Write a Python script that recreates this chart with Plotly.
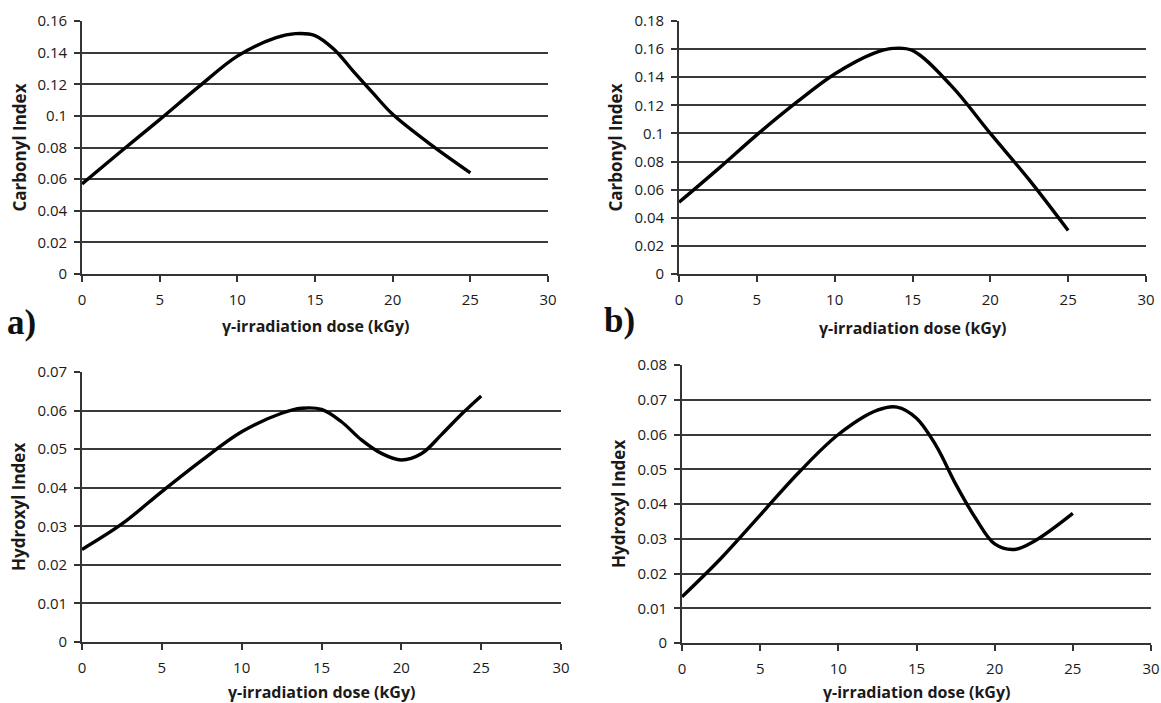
import plotly.graph_objects as go

# ---- data ----
dose_a = [0, 2.5, 5, 7.5, 10, 12.5, 13.75, 15, 16.25, 17.5, 18.75, 20, 22.5, 25]
carbonyl_a = [0.057, 0.0775, 0.0976, 0.1183, 0.1378, 0.1495, 0.152, 0.1508, 0.1418, 0.1278, 0.1142, 0.101, 0.0815, 0.064]

dose_b = [0, 2.5, 5, 7.5, 10, 12.5, 13.75, 15, 17.5, 20, 22.5, 25]
carbonyl_b = [0.051, 0.0746, 0.099, 0.1217, 0.1423, 0.157, 0.1605, 0.159, 0.1338, 0.100, 0.067, 0.031]

dose_c = [0, 2.5, 5, 7.5, 10, 12.5, 13.75, 15, 16.25, 17.5, 18.75, 20, 21.25, 22.5, 23.75, 25]
hydroxyl_c = [0.024, 0.0306, 0.039, 0.0471, 0.0545, 0.0593, 0.0606, 0.0603, 0.0571, 0.0524, 0.0489,
              0.0472, 0.0488, 0.0537, 0.059, 0.0638]

dose_d = [0, 2.5, 5, 7.5, 10, 12.5, 13.75, 15, 16.25, 17.5, 18.75, 20, 21.25, 22.5, 25]
hydroxyl_d = [0.0133, 0.0244, 0.0368, 0.0492, 0.060, 0.0670, 0.0679, 0.0647, 0.0568, 0.0458, 0.0361,
              0.0285, 0.0269, 0.0292, 0.0373]

x_ticks = [0, 5, 10, 15, 20, 25, 30]
x_ticktext = ["0", "5", "10", "15", "20", "25", "30"]
y_ticks_a = [0, 0.02, 0.04, 0.06, 0.08, 0.1, 0.12, 0.14, 0.16]
y_ticks_b = [0, 0.02, 0.04, 0.06, 0.08, 0.1, 0.12, 0.14, 0.16, 0.18]
y_ticks_c = [0, 0.01, 0.02, 0.03, 0.04, 0.05, 0.06, 0.07]
y_ticks_d = [0, 0.01, 0.02, 0.03, 0.04, 0.05, 0.06, 0.07, 0.08]

x_title = "γ-irradiation dose (kGy)"
y_title_carbonyl = "Carbonyl Index"
y_title_hydroxyl = "Hydroxyl Index"
panel_labels = ["a)", "b)"]

W, H = 1161, 703
FONT = "Open Sans"
TXT = "#1a1a1a"
GRID = "#3a3a3a"

fig = go.Figure()
series = [(dose_a, carbonyl_a), (dose_b, carbonyl_b), (dose_c, hydroxyl_c), (dose_d, hydroxyl_d)]
for i, (xs, ys) in enumerate(series):
    suffix = "" if i == 0 else str(i + 1)
    fig.add_trace(go.Scatter(
        x=xs, y=ys, mode="lines", line=dict(color="black", width=3.4, shape="spline", smoothing=1.0),
        xaxis="x" + suffix, yaxis="y" + suffix, showlegend=False, hoverinfo="x+y"))

# plot areas in pixels: (left, right, top, bottom)
boxes = [(82, 548, 21, 274), (679, 1146, 21, 274), (82, 561, 372, 642), (682, 1151, 365, 643)]
yt = [y_ticks_a, y_ticks_b, y_ticks_c, y_ticks_d]
ytitles = [y_title_carbonyl, y_title_carbonyl, y_title_hydroxyl, y_title_hydroxyl]
ytitle_x = [19, 615, 19, 618]
xtitle_y = [326, 328, 692, 692]

layout = {}
annotations = []
for i, (l, r, t, b) in enumerate(boxes):
    suffix = "" if i == 0 else str(i + 1)
    ticks = yt[i]
    layout["xaxis" + suffix] = dict(
        domain=[l / W, r / W], anchor="y" + suffix, range=[0, 30], automargin=False,
        tickvals=x_ticks, ticktext=x_ticktext, ticks="outside", ticklen=6, tickwidth=1.6,
        tickcolor="#333", showline=True, linecolor="#333", linewidth=1.6, showgrid=False,
        zeroline=False, tickfont=dict(family=FONT, size=15, color=TXT), ticklabelstandoff=5,
        fixedrange=True)
    layout["yaxis" + suffix] = dict(
        domain=[1 - b / H, 1 - t / H], anchor="x" + suffix, range=[0, ticks[-1]], automargin=False,
        tickvals=ticks, ticktext=[("%g" % v) for v in ticks], ticks="outside", ticklen=6,
        tickwidth=1.6, tickcolor="#333", showline=True, linecolor="#333", linewidth=1.6,
        showgrid=True, gridcolor=GRID, gridwidth=1.6, zeroline=False,
        tickfont=dict(family=FONT, size=15, color=TXT), ticklabelstandoff=4,
        fixedrange=True)
    annotations.append(dict(
        text="<b>" + x_title + "</b>", x=(l + r) / 2 / W, y=1 - xtitle_y[i] / H,
        xref="paper", yref="paper", xanchor="center", yanchor="middle", showarrow=False,
        font=dict(family=FONT, size=16, color=TXT)))
    annotations.append(dict(
        text="<b>" + ytitles[i] + "</b>", x=ytitle_x[i] / W, y=1 - (t + b) / 2 / H, textangle=-90,
        xref="paper", yref="paper", xanchor="center", yanchor="middle", showarrow=False,
        font=dict(family=FONT, size=17, color=TXT)))

annotations += [
    dict(text="<b>" + panel_labels[0] + "</b>", x=5 / W, y=1 - 322 / H, xref="paper", yref="paper",
         xanchor="left", yanchor="middle", showarrow=False,
         font=dict(family="Liberation Serif", size=35, color="#111")),
    dict(text="<b>" + panel_labels[1] + "</b>", x=602 / W, y=1 - 320 / H, xref="paper", yref="paper",
         xanchor="left", yanchor="middle", showarrow=False,
         font=dict(family="Liberation Serif", size=35, color="#111")),
]

fig.update_layout(
    width=W, height=H, margin=dict(l=0, r=0, t=0, b=0),
    paper_bgcolor="white", plot_bgcolor="white", annotations=annotations, **layout)

fig.write_html("out.html")
